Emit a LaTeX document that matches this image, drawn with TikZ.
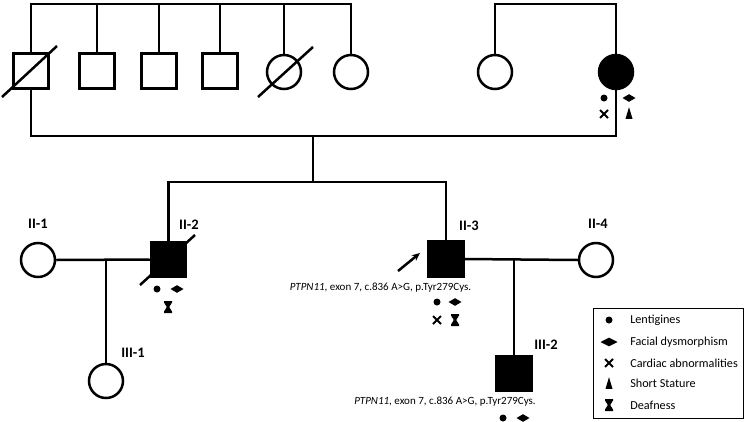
\documentclass[tikz,border=0pt]{standalone}
\usepackage{fontspec}
\setmainfont{Carlito}
\usetikzlibrary{arrows.meta}
\begin{document}
\begin{tikzpicture}[x=1pt,y=-1pt,line width=2.5pt,
  male/.style={draw,rectangle,minimum size=35pt,inner sep=0pt},
  female/.style={draw,circle,minimum size=34pt,inner sep=0pt},
  aff/.style={fill=black},
  lab/.style={font=\bfseries\fontsize{14.5}{15}\selectfont,inner sep=0pt},
  mut/.style={font=\fontsize{11}{12}\selectfont,inner sep=0pt},
  legtxt/.style={font=\fontsize{12.2}{13}\selectfont,inner sep=0pt,anchor=west},
  sdot/.pic={\fill (0,0) circle (3.5);},
  sdia/.pic={\fill (-6.5,0) -- (0,-3.8) -- (6.5,0) -- (0,3.8) -- cycle;},
  sdiaL/.pic={\fill (-8.5,0) -- (0,-4.3) -- (8.5,0) -- (0,4.3) -- cycle;},
  scross/.pic={\draw[line width=1.9pt] (-4,-4) -- (4,4) (-4,4) -- (4,-4);},
  stri/.pic={\fill (-3.5,5.8) -- (0,-5.8) -- (3.5,5.8) -- cycle;},
  shour/.pic={\fill (-4,-6) -- (4,-6) -- (4,-4.5) -- (1.2,0) -- (4,4.5) -- (4,6) -- (-4,6) -- (-4,4.5) -- (-1.2,0) -- (-4,-4.5) -- cycle;}]
\useasboundingbox (0,0) rectangle (744,421);
% generation I
\node[male] (a1) at (31,71) {};
\node[male] (a2) at (97,71) {};
\node[male] (a3) at (159,71) {};
\node[male] (a4) at (220,71) {};
\node[female] (a5) at (284,72) {};
\node[female] (a6) at (351,72) {};
\node[female] (b1) at (495,72) {};
\node[female,aff] (b2) at (616,72) {};
\coordinate (tl) at (31,4);
\coordinate (m) at (31,136);
\draw (a1.north) -- (a1.north |- tl) -- (a6.north |- tl) -- (a6.north);
\draw (a2.north) -- (a2.north |- tl);
\draw (a3.north) -- (a3.north |- tl);
\draw (a4.north) -- (a4.north |- tl);
\draw (a5.north) -- (a5.north |- tl);
\draw (b1.north) -- (b1.north |- tl) -- (b2.north |- tl) -- (b2.north);
\draw (a1.south) -- (a1.south |- m) -- (b2.south |- m) -- (b2.south);
\draw (2,97) -- (57,46);
\draw (258,97) -- (313,47);
\pic at (604,98) {sdot};
\pic at (629,98) {sdia};
\pic at (604,114) {scross};
\pic at (629,113) {stri};
% generation II
\node[female] (c1) at (38,260) {};
\node[male,aff] (c2) at (168.5,259.5) {};
\node[male,aff] (c3) at (446,259) {};
\node[female] (c4) at (596,260) {};
\coordinate (d1) at (313,136);
\coordinate (s2) at (313,182);
\draw (d1) -- (s2);
\draw (c2.north) -- (c2.north |- s2) -- (c3.north |- s2) -- (c3.north);
\draw (c1.east) -- (c2.west);
\draw (c3.east) -- (c4.west);
\draw (140,285) -- (195,235);
\coordinate (arrs) at (398,271);
\coordinate (arre) at (420,253);
\draw[-{Stealth[length=8pt,width=7pt]}] (arrs) -- (arre);
\node[lab] (l21) at (38,224) {II-1};
\node[lab] (l22) at (189,225) {II-2};
\node[lab] (l23) at (469,226) {II-3};
\node[lab] (l24) at (598,224) {II-4};
\pic at (157,289) {sdot};
\pic at (177,289) {sdia};
\pic at (168,307) {shour};
\node[mut] (t3) at (380.5,288) {\textit{PTPN11}, exon 7, c.836 A>G, p.Tyr279Cys.};
\pic at (437,302) {sdot};
\pic at (455,302) {sdia};
\pic at (437,320) {scross};
\pic at (455,320) {shour};
% generation III
\node[female] (e1) at (106,381) {};
\node[male,aff] (e2) at (514,373.5) {};
\coordinate (k1) at (106,260);
\coordinate (k2) at (514,260);
\draw (k1) -- (e1.north);
\draw (k2) -- (e2.north);
\node[lab] (l31) at (133,353) {III-1};
\node[lab] (l32) at (546,345) {III-2};
\node[mut] (t4) at (445,402) {\textit{PTPN11}, exon 7, c.836 A>G, p.Tyr279Cys.};
\pic at (503,418) {sdot};
\pic at (523,418) {sdia};
% legend
\node[draw,line width=1.1pt,minimum width=150pt,minimum height=110pt,anchor=north west,inner sep=0pt] (leg) at (593,308) {};
\pic at (609,320) {sdot};
\pic at (609,342) {sdiaL};
\pic at (609,363) {scross};
\pic at (609,383) {stri};
\pic at (609,405) {shour};
\node[legtxt] (g1) at (629,320) {Lentigines};
\node[legtxt] (g2) at (629,342) {Facial dysmorphism};
\node[legtxt] (g3) at (629,363) {Cardiac abnormalities};
\node[legtxt] (g4) at (629,383) {Short Stature};
\node[legtxt] (g5) at (629,405) {Deafness};
\end{tikzpicture}
\end{document}
